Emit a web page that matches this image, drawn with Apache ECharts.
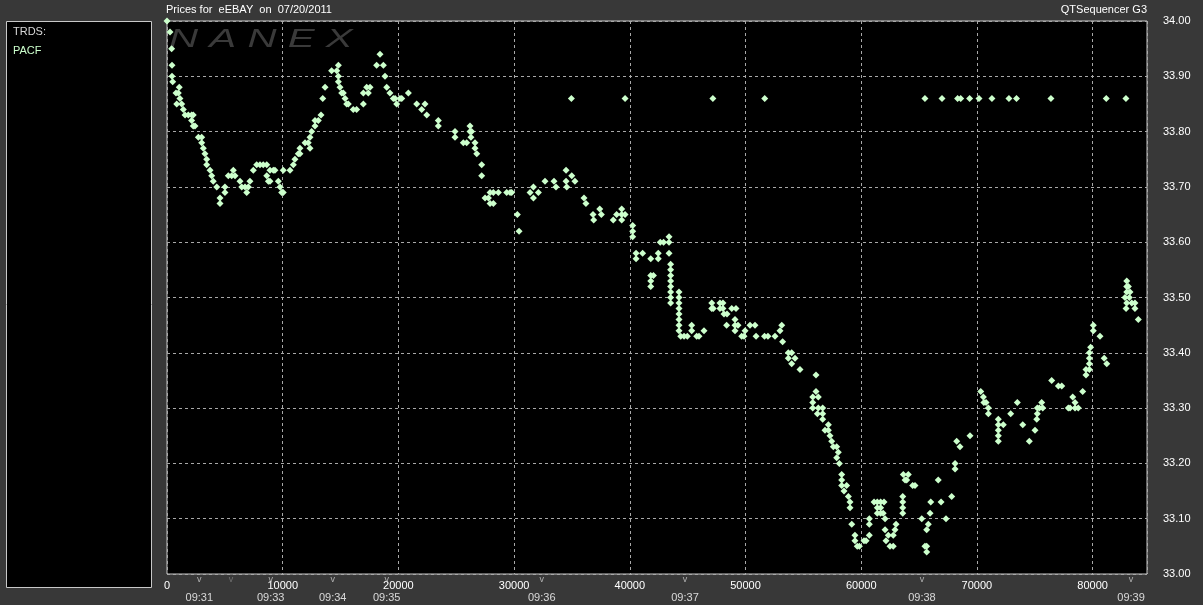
<!DOCTYPE html>
<html><head><meta charset="utf-8">
<script src="https://cdn.jsdelivr.net/npm/echarts@6/dist/echarts.min.js"></script>
<style>html,body{margin:0;padding:0;background:#383838;}#c{width:1203px;height:605px;}</style>
</head><body><div id="c"></div>
<script>
const chartTitle = 'Prices for  eEBAY  on  07/20/2011';
const sideTitle = 'QTSequencer G3';
const panelLines = ['TRDS:', 'PACF'];
const yTicks = { min: 33.0, max: 34.0, step: 0.1 };
const xTicks = { min: 0, max: 84700, step: 10000 };
// [sequence number, price]
const trades = [
[0,34.00],[260,33.98],[400,33.95],[430,33.92],[430,33.90],[490,33.89],[780,33.87],[980,33.87],[1060,33.88],[1120,33.86],[840,33.85],[1270,33.85],[1410,33.84],[1560,33.83],[1840,33.83],[2130,33.83],[2270,33.83],[2130,33.82],[2270,33.81],[2420,33.81],[2710,33.79],[3000,33.79],[3000,33.78],[3140,33.77],[3280,33.76],[3430,33.75],[3430,33.74],[3720,33.73],[3860,33.72],[4000,33.71],[4300,33.70],[4580,33.68],[4580,33.67],[5010,33.70],[5010,33.69],[5300,33.72],[5590,33.72],[5730,33.73],[5880,33.72],[6310,33.71],[6460,33.70],[6740,33.70],[6890,33.69],[7030,33.70],[7170,33.71],[7460,33.73],[7750,33.74],[8040,33.74],[8320,33.74],[8620,33.74],[8900,33.73],[8620,33.72],[8760,33.71],[8900,33.71],[9190,33.73],[9330,33.73],[9620,33.71],[9770,33.70],[9910,33.69],[10050,33.69],[10050,33.73],[10630,33.73],[10920,33.74],[11060,33.75],[11350,33.76],[11490,33.76],[11490,33.77],[11930,33.78],[12210,33.78],[12360,33.77],[12360,33.79],[12500,33.80],[12790,33.81],[12790,33.82],[13080,33.82],[13310,33.83],[13460,33.86],[13660,33.88],[14230,33.91],[14670,33.91],[14810,33.92],[14810,33.90],[14810,33.89],[14950,33.88],[15100,33.87],[15240,33.87],[15390,33.86],[15530,33.85],[15670,33.85],[16100,33.84],[16390,33.84],[16970,33.85],[16970,33.87],[17260,33.88],[17550,33.88],[17400,33.87],[18120,33.92],[18410,33.94],[18700,33.92],[18840,33.90],[18990,33.88],[19270,33.87],[19560,33.86],[19710,33.86],[19850,33.85],[20140,33.86],[20290,33.86],[20860,33.87],[21580,33.85],[22300,33.85],[22010,33.84],[22450,33.83],[23450,33.82],[23450,33.81],[24890,33.80],[24890,33.79],
[25610,33.78],[25900,33.78],[26190,33.81],[26190,33.80],[26330,33.80],[26270,33.79],[26620,33.78],[26620,33.77],[26770,33.76],[27200,33.74],[27200,33.72],[27490,33.68],[27780,33.68],[27920,33.69],[28210,33.69],[28640,33.69],[27920,33.67],[28210,33.67],[29360,33.69],[29650,33.69],[29790,33.69],[30280,33.65],[30430,33.62],[31380,33.69],[31670,33.70],[32100,33.69],[31670,33.68],[32670,33.71],[33450,33.71],[33620,33.70],[34490,33.73],[34490,33.71],[34550,33.70],[34980,33.72],[35260,33.71],[36040,33.68],[36210,33.67],[36820,33.65],[37400,33.66],[37540,33.65],[36880,33.64],[38570,33.64],[38860,33.65],[39300,33.66],[39300,33.65],[39590,33.65],[39300,33.64],[40250,33.63],[40250,33.62],[40250,33.61],[40540,33.58],[40540,33.57],[41110,33.58],[41810,33.57],[41810,33.54],[42040,33.54],[41810,33.53],[41810,33.52],[42460,33.58],[42460,33.57],[42630,33.60],[42920,33.60],[43390,33.61],[43390,33.60],[43390,33.58],[43530,33.56],[43530,33.55],[43530,33.54],[43530,33.53],[43530,33.52],[43530,33.51],[43530,33.50],[43530,33.49],
[44250,33.51],[44250,33.50],[44250,33.49],[44250,33.48],[44250,33.47],[44250,33.46],[44250,33.45],[44250,33.44],[44400,33.43],[44690,33.43],[44970,33.43],[45350,33.45],[45350,33.44],[45780,33.43],[45980,33.43],[46410,33.44],[47080,33.49],[47080,33.48],[47210,33.48],[47790,33.49],[48050,33.49],[47790,33.48],[48050,33.48],[48140,33.47],[48400,33.47],[48810,33.48],[49180,33.48],[48370,33.45],[49090,33.46],[49090,33.45],[49350,33.45],[49090,33.44],[49670,33.43],[49870,33.43],[49960,33.44],[50390,33.45],[50820,33.45],[50910,33.43],[51640,33.43],[51940,33.43],[52550,33.43],[52980,33.44],[53130,33.45],[53210,33.42],[53700,33.40],[53990,33.40],[53700,33.39],[54280,33.39],[53990,33.38],[54710,33.37],[56090,33.36],
[56090,33.33],[55810,33.32],[56290,33.32],[55810,33.31],[55810,33.30],[56290,33.30],[56670,33.30],[56210,33.29],[56670,33.29],[56670,33.28],[57160,33.27],[56870,33.26],[57160,33.26],[57300,33.25],[57450,33.24],[57590,33.23],[57880,33.23],[58020,33.22],[57880,33.21],[58110,33.20],[58310,33.18],[58310,33.17],[58310,33.16],[58740,33.16],[58510,33.15],[58890,33.14],[59030,33.13],[59030,33.12],[59180,33.09],[59460,33.07],[59460,33.06],[59660,33.05],[59840,33.05],[60240,33.06],[60420,33.06],[60700,33.10],[60700,33.09],[60700,33.07],[61110,33.13],[61390,33.13],[61680,33.13],[61970,33.13],[61390,33.12],[61680,33.12],[61390,33.11],[61680,33.11],[61900,33.11],[62060,33.10],[62060,33.08],[62140,33.06],[62340,33.07],[62490,33.05],[62770,33.05],[62770,33.07],[62920,33.08],[63010,33.09],[63640,33.18],[64070,33.18],[63790,33.17],[63930,33.17],[64450,33.16],[64650,33.16],[63590,33.14],[63590,33.13],[63590,33.12],[63590,33.11],[65230,33.10],[65800,33.09],[65660,33.08],[65510,33.05],[65660,33.05],[65660,33.04],[66010,33.13],[65950,33.11],[66660,33.17],[66900,33.13],[67330,33.10],[67820,33.14],[68110,33.20],[68110,33.19],[68250,33.24],[68540,33.23],[69400,33.25],
[70330,33.33],[70560,33.32],[70790,33.31],[70600,33.31],[70990,33.30],[70990,33.29],[71850,33.28],[71850,33.27],[71850,33.26],[71850,33.25],[71850,33.24],[72280,33.27],[72920,33.29],[73490,33.31],[73960,33.27],[74530,33.24],[75020,33.26],[75170,33.28],[75220,33.29],[75220,33.30],[75400,33.30],[75600,33.31],[75690,33.30],[76460,33.35],[77040,33.34],[77330,33.34],[77900,33.30],[78050,33.30],[78480,33.30],[78760,33.30],[78280,33.32],[78480,33.31],[79140,33.33],[79430,33.36],[79430,33.37],[79720,33.37],[79720,33.38],[79720,33.39],[79720,33.40],[79830,33.41],[80060,33.45],[80060,33.44],[80640,33.43],[81000,33.39],[81220,33.38],
[82950,33.53],[82950,33.52],[83090,33.52],[82950,33.51],[83230,33.51],[82800,33.50],[83170,33.50],[82950,33.49],[83380,33.49],[83660,33.49],[82890,33.48],[83660,33.48],[83950,33.46]
];
// stale prints at a fixed price
const stalePrice = 33.86;
const staleSeq = [34950,39590,47180,51660,65510,66980,68330,68600,69370,70180,71300,72770,73420,76400,81180,82880];
// time marks on the sequence axis
const timeSeq = [2790,5530,8960,14320,18990,32390,44770,65250,83320];
const timeLabels = ['09:31','','09:33','09:34','09:35','09:36','09:37','09:38','09:39'];

const FONT = '"Liberation Sans", Arial, sans-serif';
const chart = echarts.init(document.getElementById('c'), null, {renderer:'canvas'});
const staleData = staleSeq.map(s => [s, stalePrice]);
const timeData = timeSeq.map((s, i) => ({value:[s, yTicks.min], name: timeLabels[i]}));

chart.setOption({
  backgroundColor: '#383838',
  animation: false,
  textStyle: {fontFamily: FONT},
  grid: {left: 167, top: 21, width: 980, height: 553, show: true, backgroundColor: '#000', borderColor: '#c8c8c8', borderWidth: 1},
  xAxis: {
    type: 'value', min: xTicks.min, max: xTicks.max, interval: xTicks.step,
    axisLine: {show: false}, axisTick: {show: false},
    axisLabel: {color: '#ffffff', fontSize: 11, margin: 6, fontFamily: FONT, showMaxLabel: false,
      formatter: v => String(v)},
    splitLine: {show: true, lineStyle: {color: '#a8a8a8', type: [3, 3], width: 1}}
  },
  yAxis: {
    type: 'value', position: 'right', min: yTicks.min, max: yTicks.max, interval: yTicks.step,
    axisLine: {show: false}, axisTick: {show: false},
    axisLabel: {color: '#ffffff', fontSize: 11, margin: 16, fontFamily: FONT, formatter: v => v.toFixed(2)},
    splitLine: {show: true, lineStyle: {color: '#a8a8a8', type: [3, 3], width: 1}}
  },
  graphic: [
    {type: 'rect', shape: {x: 6.5, y: 21.5, width: 145, height: 566}, style: {fill: '#000', stroke: '#c8c8c8', lineWidth: 1}},
    {type: 'text', x: 13, y: 26, style: {text: panelLines[0], fill: '#d8d8d8', font: '11px ' + FONT}},
    {type: 'text', x: 13, y: 45, style: {text: panelLines[1], fill: '#ccffcc', font: '11px ' + FONT}},
    {type: 'text', x: 166, y: 4, style: {text: chartTitle, fill: '#ffffff', font: '11px ' + FONT}},
    {type: 'text', right: 56, top: 4, style: {text: sideTitle, fill: '#ffffff', font: '11px ' + FONT}},
    {type: 'text', x: 169, y: 27, scaleX: 1.55, z: 1, style: {text: 'N A N E X', fill: '#3a3a3a', font: 'italic 26px ' + FONT}}
  ],
  series: [
    {type: 'scatter', name: 'PACF', data: trades, symbol: 'diamond', symbolSize: 7, z: 3,
     itemStyle: {color: '#ccffcc', opacity: 1}},
    {type: 'scatter', name: 'PACF stale', data: staleData, symbol: 'diamond', symbolSize: 7, z: 3,
     itemStyle: {color: '#ccffcc', opacity: 1}},
    {type: 'scatter', name: 'time', data: timeData, symbolSize: 0, clip: false, silent: true,
     label: {show: true, position: 'bottom', distance: 1,
       formatter: p => p.name ? '{v|v}\n{t|' + p.name + '}' : '{d|v}',
       rich: {v: {fontSize: 9, color: '#d0d0d0', lineHeight: 10, fontFamily: FONT},
              d: {fontSize: 9, color: '#808080', lineHeight: 10, fontFamily: FONT},
              t: {fontSize: 11, color: '#ffffff', lineHeight: 26, fontFamily: FONT}}}}
  ]
});
</script></body></html>
